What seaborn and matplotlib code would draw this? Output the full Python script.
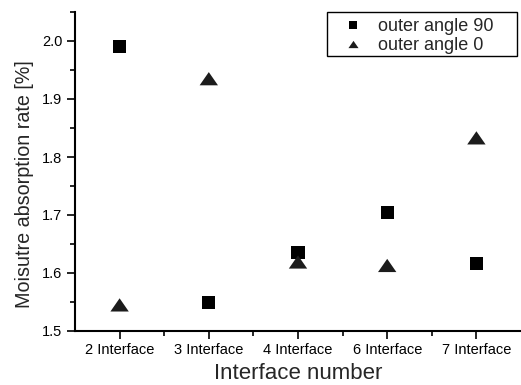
import matplotlib
matplotlib.use("Agg")
import matplotlib.pyplot as plt
import seaborn as sns
import pandas as pd
from matplotlib.patches import Rectangle
from matplotlib.ticker import MultipleLocator, FixedLocator, FormatStrFormatter

categories = ["2 Interface", "3 Interface", "4 Interface", "6 Interface", "7 Interface"]
outer_angle_90 = [1.990, 1.549, 1.635, 1.704, 1.616]
outer_angle_0 = [1.545, 1.935, 1.619, 1.613, 1.833]
series_names = ["outer angle 90", "outer angle 0"]

df = pd.DataFrame({
    "Interface": categories * 2,
    "value": outer_angle_90 + outer_angle_0,
    "series": [series_names[0]] * len(categories) + [series_names[1]] * len(categories),
})
df["x"] = df["Interface"].map({c: i for i, c in enumerate(categories)})

sns.set_style("ticks")
plt.rcParams["font.family"] = ["Liberation Sans", "DejaVu Sans"]

fig = plt.figure(figsize=(5.21, 3.85), dpi=100)
ax = fig.add_axes([75 / 521, (385 - 331) / 385, (521 - 75) / 521, (331 - 12) / 385])

tri = [(0, 0.72), (-1, -0.72), (1, -0.72)]
sns.scatterplot(data=df, x="x", y="value", hue="series", style="series", size="series",
                palette={series_names[0]: "black", series_names[1]: "#1c1c1c"},
                markers={series_names[0]: "s", series_names[1]: tri},
                sizes={series_names[0]: 90, series_names[1]: 175},
                linewidth=0, ax=ax, legend=True)

ax.set_xlim(-0.5, len(categories) - 0.5)
ax.set_ylim(1.5, 2.05)
ax.xaxis.set_major_locator(FixedLocator(range(len(categories))))
ax.set_xticklabels(categories)
ax.xaxis.set_minor_locator(FixedLocator([i + 0.5 for i in range(len(categories) - 1)]))
ax.yaxis.set_major_locator(MultipleLocator(0.1))
ax.yaxis.set_minor_locator(MultipleLocator(0.05))
ax.yaxis.set_major_formatter(FormatStrFormatter("%.1f"))

for side in ["top", "right"]:
    ax.spines[side].set_visible(False)
for side in ["left", "bottom"]:
    ax.spines[side].set_linewidth(1.5)
    ax.spines[side].set_color("black")

ax.tick_params(axis="both", which="major", direction="out", length=6, width=1.2,
               labelsize=10.5, colors="black", pad=3)
ax.tick_params(axis="both", which="minor", direction="out", length=3.5, width=1.2, colors="black")

ax.set_xlabel("Interface number", fontsize=16, labelpad=4)
ax.set_ylabel("Moisutre absorption rate [%]", fontsize=14.2)
ax.yaxis.set_label_coords(-0.092, 0.459)

handles, labels = ax.get_legend_handles_labels()
seen = {}
for h, l in zip(handles, labels):
    if l in series_names:
        seen.setdefault(l, h)

box_x0 = (327 - 75) / 446
box_x1 = (517 - 75) / 446
box_y0 = (331 - 56) / 319
leg = ax.legend([seen[n] for n in series_names], series_names,
                loc="upper left", bbox_to_anchor=(box_x0, 1.0 - 2.5 / 319),
                borderaxespad=0, fontsize=13, frameon=False,
                markerscale=0.55, labelspacing=0.12,
                handletextpad=0.15, borderpad=0.2, handlelength=2.5)
ax.add_patch(Rectangle((box_x0, box_y0), box_x1 - box_x0, 1.0 - box_y0,
                       transform=ax.transAxes, fill=False, edgecolor="black",
                       linewidth=1.0, clip_on=False, zorder=5))

fig.savefig("out.png", dpi=100)
